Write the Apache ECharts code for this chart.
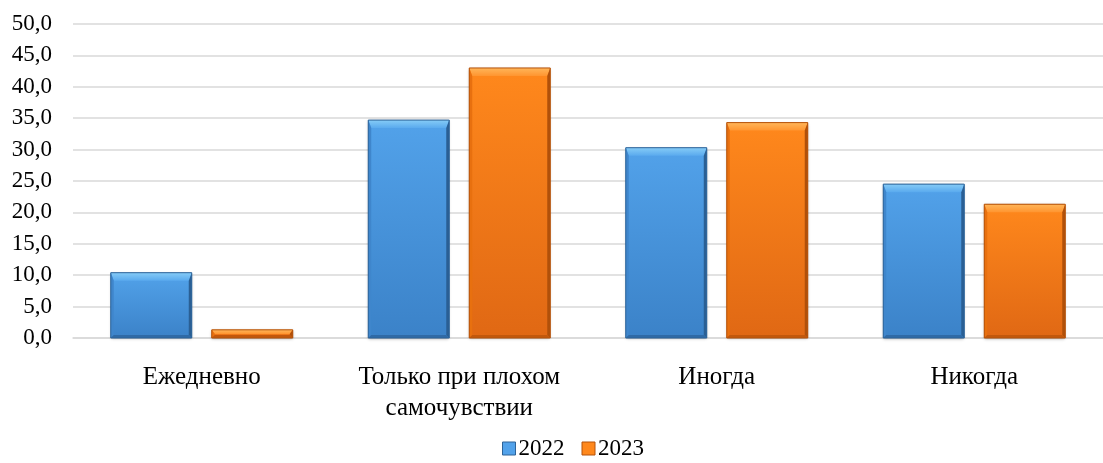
<!DOCTYPE html>
<html><head><meta charset="utf-8">
<script src="https://cdn.jsdelivr.net/npm/echarts@6/dist/echarts.min.js"></script>
<style>html,body{margin:0;padding:0;background:#fff}#c{width:1103px;height:463px}</style>
</head><body><div id="c"></div>
<script>
const categories = ['Ежедневно', 'Только при плохом\nсамочувствии', 'Иногда', 'Никогда'];
const seriesNames = ['2022', '2023'];
const values2022 = [10.4, 34.7, 30.3, 24.5];
const values2023 = [1.3, 43.0, 34.3, 21.3];
const yTicks = { min: 0, max: 50, interval: 5 };

const FONT = '"Liberation Serif", "Times New Roman", serif';
const palettes = [
  { faceTop: '#52a2ea', faceBot: '#3b82c8', bevTop: '#86ccf7', bevTop2: '#5aaaee', left: '#3f86cc', right: '#2a5f94', bottom: '#2f6aa6', border: '#2d6398' },
  { faceTop: '#ff881c', faceBot: '#e06814', bevTop: '#ffb65a', bevTop2: '#ff9530', left: '#e8700f', right: '#b0500a', bottom: '#c2580c', border: '#b4520a' }
];
const BAR_W = 81, OFFSET = 50.5;

function makeRender(si) {
  const p = palettes[si];
  return function (params, api) {
    const cat = api.value(0), val = api.value(1);
    const top = api.coord([cat, val]);
    const base = api.coord([cat, 0]);
    const cx = top[0] + (si === 0 ? -OFFSET : OFFSET);
    const x0 = cx - BAR_W / 2, x1 = cx + BAR_W / 2;
    const y0 = top[1], y1 = base[1];
    const h = y1 - y0;
    const bt = Math.min(8, h / 2), bs = Math.min(3, h / 2), bb = Math.min(3, h / 2);
    const grad = (a, b) => new echarts.graphic.LinearGradient(0, 0, 0, 1, [{ offset: 0, color: a }, { offset: 1, color: b }]);
    const children = [
      { type: 'rect', shape: { x: x0, y: y0, width: BAR_W, height: h },
        style: { fill: grad(p.faceTop, p.faceBot), shadowColor: 'rgba(0,0,0,0.3)', shadowBlur: 3, shadowOffsetY: 1 } },
      { type: 'polygon', shape: { points: [[x0, y0], [x1, y0], [x1 - bs, y0 + bt], [x0 + bs, y0 + bt]] },
        style: { fill: grad(p.bevTop, p.bevTop2) } },
      { type: 'polygon', shape: { points: [[x0, y0], [x0 + bs, y0 + bt], [x0 + bs, y1 - bb], [x0, y1]] },
        style: { fill: p.left } },
      { type: 'polygon', shape: { points: [[x1, y0], [x1 - bs, y0 + bt], [x1 - bs, y1 - bb], [x1, y1]] },
        style: { fill: p.right } },
      { type: 'polygon', shape: { points: [[x0, y1], [x0 + bs, y1 - bb], [x1 - bs, y1 - bb], [x1, y1]] },
        style: { fill: p.bottom } },
      { type: 'rect', shape: { x: x0, y: y0, width: BAR_W, height: h },
        style: { fill: 'none', stroke: p.border, lineWidth: 1 } }
    ];
    return { type: 'group', children };
  };
}

const chart = echarts.init(document.getElementById('c'));
chart.setOption({
  animation: false,
  textStyle: { fontFamily: FONT },
  grid: { left: 73, top: 24, bottom: 125, width: 1041, containLabel: false },
  legend: {
    top: 432, left: 497, itemWidth: 13, itemHeight: 13, itemGap: 17,
    textStyle: { fontFamily: FONT, fontSize: 23, color: '#000', padding: [0, 0, 0, -2] },
    data: [
      { name: seriesNames[0], icon: 'rect', itemStyle: { color: palettes[0].faceTop, borderColor: palettes[0].border, borderWidth: 1 } },
      { name: seriesNames[1], icon: 'rect', itemStyle: { color: palettes[1].faceTop, borderColor: palettes[1].border, borderWidth: 1 } }
    ]
  },
  xAxis: {
    type: 'category', data: categories,
    axisLine: { lineStyle: { color: '#d9d9d9', width: 1.5 } },
    axisTick: { show: false },
    axisLabel: { fontFamily: FONT, fontSize: 25, color: '#000', margin: 24, lineHeight: 31, interval: 0 }
  },
  yAxis: {
    type: 'value', min: yTicks.min, max: yTicks.max, interval: yTicks.interval,
    axisLine: { show: false }, axisTick: { show: false },
    splitLine: { lineStyle: { color: '#d9d9d9', width: 1.5 } },
    axisLabel: { fontFamily: FONT, fontSize: 23, color: '#000', margin: 21,
      formatter: v => v.toFixed(1).replace('.', ',') }
  },
  series: [
    { name: seriesNames[0], type: 'custom', renderItem: makeRender(0),
      itemStyle: { color: palettes[0].faceTop },
      encode: { x: 0, y: 1 }, data: values2022.map((v, i) => [i, v]) },
    { name: seriesNames[1], type: 'custom', renderItem: makeRender(1),
      itemStyle: { color: palettes[1].faceTop },
      encode: { x: 0, y: 1 }, data: values2023.map((v, i) => [i, v]) }
  ]
});
</script></body></html>
